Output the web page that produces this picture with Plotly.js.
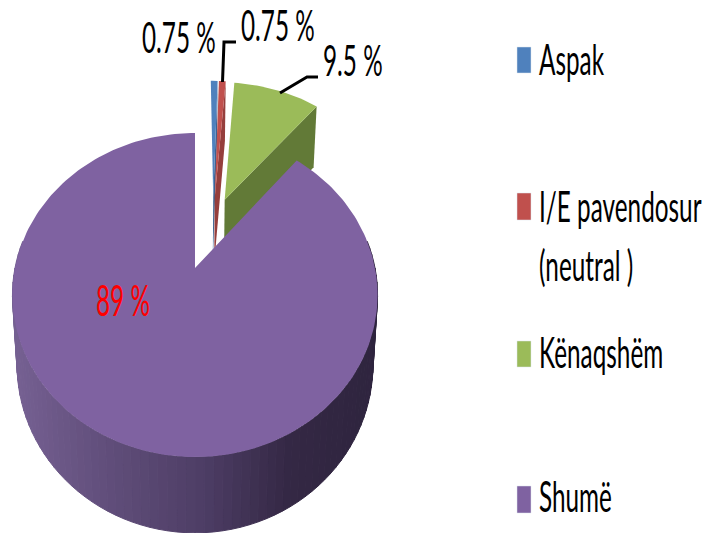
<!DOCTYPE html>
<html><head><meta charset="utf-8">
<script src="https://cdn.plot.ly/plotly-3.0.1.min.js"></script>
<style>html,body{margin:0;padding:0;background:#fff}#c{width:708px;height:533px}
#c .annotation-text{transform-box:fill-box;transform-origin:0% 50%;transform:scale(0.64,1.1)}
</style>
</head><body><div id="c"></div>
<script>
var categories = ['Aspak', 'I/E pavendosur<br>(neutral )', 'Kënaqshëm', 'Shumë'];
var values = [0.75, 0.75, 9.5, 89];
var valueLabels = ['0.75 %', '0.75 %', '9.5 %', '89 %'];
var colors = ['#4f81bd', '#c0504d', '#9bbb59', '#7f62a1'];
var wallColors = ['#3c6291', '#953e3c', '#627a37', '#4f3f66'];
var explode = [0.19, 0.19, 0.19, 0.31];

var FONT = 'Lato, "Liberation Sans", sans-serif';
var cx = 195, cy = 268, fx = 180, persp = 1 / 6, fy = -112.83;
var total = values.reduce(function (a, b) { return a + b; }, 0);
var rad = Math.PI / 180;

function project(u, v) {
  var w = persp * v + 1;
  return { x: cx + fx * u / w, y: (fy * v + cy) / w, w: w };
}
function drop(p) {
  return { x: 195 + (p.x - 195) * 0.975, y: p.y + 68 * Math.pow(p.w, -0.6) };
}
var spans = [], acc = 0;
values.forEach(function (v) { var a = acc / total * 360; acc += v; spans.push([a, acc / total * 360]); });
var last = values.length - 1;
var lastMid = (spans[last][0] + spans[last][1]) / 2 * rad;
function offset(i) {
  var mid = (spans[i][0] + spans[i][1]) / 2 * rad;
  return [explode[i] * Math.sin(mid) - explode[last] * Math.sin(lastMid),
          explode[i] * Math.cos(mid) - explode[last] * Math.cos(lastMid)];
}
function pt(i, deg) {
  var o = offset(i);
  return project(o[0] + Math.sin(deg * rad), o[1] + Math.cos(deg * rad));
}
function apex(i) { var o = offset(i); return project(o[0], o[1]); }
function poly(points, color, lw) {
  return { type: 'scatter', mode: 'lines', x: points.map(function (p) { return p.x; }),
    y: points.map(function (p) { return p.y; }), fill: 'toself', fillcolor: color,
    line: { color: color, width: lw || 0 }, hoverinfo: 'skip', showlegend: false };
}
function topFace(i) {
  var pts = [apex(i)], a = spans[i][0], b = spans[i][1];
  var n = Math.max(4, Math.ceil((b - a) / 1.5));
  for (var k = 0; k <= n; k++) pts.push(pt(i, a + (b - a) * k / n));
  pts.push(apex(i));
  return poly(pts, colors[i]);
}
function cutWall(i) {
  var A = apex(i), B = pt(i, spans[i][1]);
  return poly([A, B, drop(B), drop(A), A], wallColors[i]);
}
var stops = [[10, [118, 97, 147]], [100, [98, 79, 124]], [200, [78, 62, 102]], [290, [52, 40, 68]], [380, [46, 36, 62]]];
function shade(x) {
  for (var i = 0; i < stops.length - 1; i++) {
    if (x <= stops[i + 1][0]) {
      var t = Math.max(0, (x - stops[i][0]) / (stops[i + 1][0] - stops[i][0]));
      var c = stops[i][1], d = stops[i + 1][1];
      return 'rgb(' + [0, 1, 2].map(function (j) { return Math.round(c[j] + (d[j] - c[j]) * t); }).join(',') + ')';
    }
  }
  return 'rgb(46,36,62)';
}
var traces = [];
// exploded slices, back to front
[2, 0, 1].forEach(function (i) { traces.push(cutWall(i)); traces.push(topFace(i)); });
// curved wall of the main slice
for (var d = 80; d < 280; d += 2.5) {
  var p = pt(last, d), q = pt(last, d + 2.5);
  var col = shade((p.x + q.x) / 2);
  traces.push(poly([p, q, drop(q), drop(p), p], col, 1));
}
traces.push(topFace(last));
// leader lines
function leader(pts) {
  return { type: 'scatter', mode: 'lines', x: pts.map(function (p) { return p[0]; }), y: pts.map(function (p) { return p[1]; }),
    line: { color: '#000', width: 3 }, hoverinfo: 'skip', showlegend: false };
}
traces.push(leader([[222.5, 82], [224, 42], [236, 42]]));
traces.push(leader([[280, 93], [307, 77], [318, 77]]));

var swatchY = [[47, 73], [193, 220], [341, 367], [486, 513]];
var legendY = [59, 206, 352, 496];
var shapes = categories.map(function (c, i) {
  return { type: 'rect', xref: 'x', yref: 'y', x0: 517, x1: 531, y0: swatchY[i][0], y1: swatchY[i][1],
    fillcolor: colors[i], line: { color: '#dfe6ef', width: 0.5 } };
});
var labelPos = [[140, 37, '#000'], [239, 25, '#000'], [321, 60, '#000'], [94, 300, '#ff0000']];
var anns = valueLabels.map(function (t, i) {
  return { xref: 'x', yref: 'y', x: labelPos[i][0], y: labelPos[i][1], text: t, showarrow: false, xanchor: 'left', yanchor: 'middle',
    font: { family: FONT, size: 38, color: labelPos[i][2] } };
});
categories.forEach(function (c, i) {
  c.split('<br>').forEach(function (line, k) {
    anns.push({ xref: 'x', yref: 'y', x: 537, y: legendY[i] + k * 59, text: line, showarrow: false, xanchor: 'left', yanchor: 'middle',
      font: { family: FONT, size: 38, color: '#000' } });
  });
});
var layout = {
  width: 708, height: 533, margin: { l: 0, r: 0, t: 0, b: 0 }, showlegend: false,
  paper_bgcolor: '#fff', plot_bgcolor: '#fff', hovermode: false,
  xaxis: { range: [0, 708], visible: false, fixedrange: true },
  yaxis: { range: [533, 0], visible: false, fixedrange: true },
  shapes: shapes, annotations: anns
};
Plotly.newPlot('c', traces, layout, { displayModeBar: false, staticPlot: true });
</script></body></html>
